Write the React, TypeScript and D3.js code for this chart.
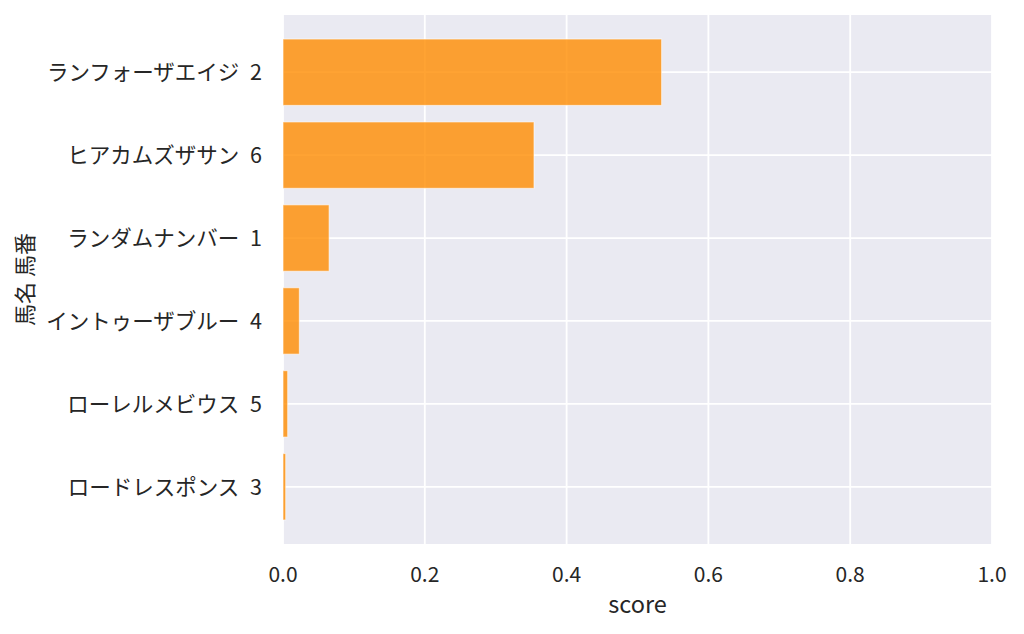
import React from 'react';
import * as d3 from 'd3';

const horses = [
  'ランフォーザエイジ 2',
  'ヒアカムズザサン 6',
  'ランダムナンバー 1',
  'イントゥーザブルー 4',
  'ローレルメビウス 5',
  'ロードレスポンス 3',
];
const scores = [0.534, 0.354, 0.065, 0.023, 0.0066, 0.0038];
const xTicks = [0, 0.2, 0.4, 0.6, 0.8, 1.0];

const width = 1024;
const height = 634;
const margin = { top: 15, right: 32, bottom: 90, left: 283 };
const font = '"Noto Sans CJK JP", "Noto Sans", sans-serif';
const textColor = '#262626';

export default function App() {
  const innerWidth = width - margin.left - margin.right;
  const innerHeight = height - margin.top - margin.bottom;

  const x = d3.scaleLinear().domain([0, 1]).range([0, innerWidth]);
  // seaborn style categorical axis: centres at 0..n-1, with 5% margins
  const n = horses.length;
  const pad = 0.05 * (n - 1 + 0.8);
  const y = d3
    .scaleLinear()
    .domain([-0.4 - pad, n - 1 + 0.4 + pad])
    .range([0, innerHeight]);
  const barH = y(0.4) - y(-0.4);

  return (
    <svg
      width={width}
      height={height}
      style={{ position: 'absolute', left: 0, top: 0, background: '#fff' }}
      fontFamily={font}
    >
      <g transform={`translate(${margin.left},${margin.top})`}>
        <rect width={innerWidth} height={innerHeight} fill="#eaeaf2" />
        {xTicks.map((t) => (
          <line
            key={`gx${t}`}
            x1={x(t)}
            x2={x(t)}
            y1={0}
            y2={innerHeight}
            stroke="#fff"
            strokeWidth={1.8}
          />
        ))}
        {horses.map((h, i) => (
          <line
            key={`gy${h}`}
            x1={0}
            x2={innerWidth}
            y1={y(i)}
            y2={y(i)}
            stroke="#fff"
            strokeWidth={1.8}
          />
        ))}
        {horses.map((h, i) => (
          <rect
            key={`bar${h}`}
            x={x(0)}
            y={y(i) - barH / 2}
            width={x(scores[i]) - x(0)}
            height={barH}
            fill="darkorange"
            fillOpacity={0.8}
            stroke="#fff"
            strokeOpacity={0.6}
            strokeWidth={1}
          />
        ))}
        {horses.map((h, i) => (
          <text
            key={`lab${h}`}
            x={-21}
            y={y(i)}
            dy="0.36em"
            textAnchor="end"
            fontSize={21.5}
            fill={textColor}
            style={{ whiteSpace: 'pre' }}
          >
            {h.replace(' ', '\u2002')}
          </text>
        ))}
        {xTicks.map((t) => (
          <text
            key={`tx${t}`}
            x={x(t)}
            y={innerHeight + 38}
            textAnchor="middle"
            fontSize={21}
            fill={textColor}
          >
            {d3.format('.1f')(t)}
          </text>
        ))}
        <text
          x={innerWidth / 2}
          y={innerHeight + 69}
          textAnchor="middle"
          fontSize={23.5}
          fill={textColor}
        >
          score
        </text>
      </g>
      <text
        transform={`translate(${33},${margin.top + y(2.5)}) rotate(-90)`}
        textAnchor="middle"
        fontSize={22}
        fill={textColor}
      >
        馬名 馬番
      </text>
    </svg>
  );
}
